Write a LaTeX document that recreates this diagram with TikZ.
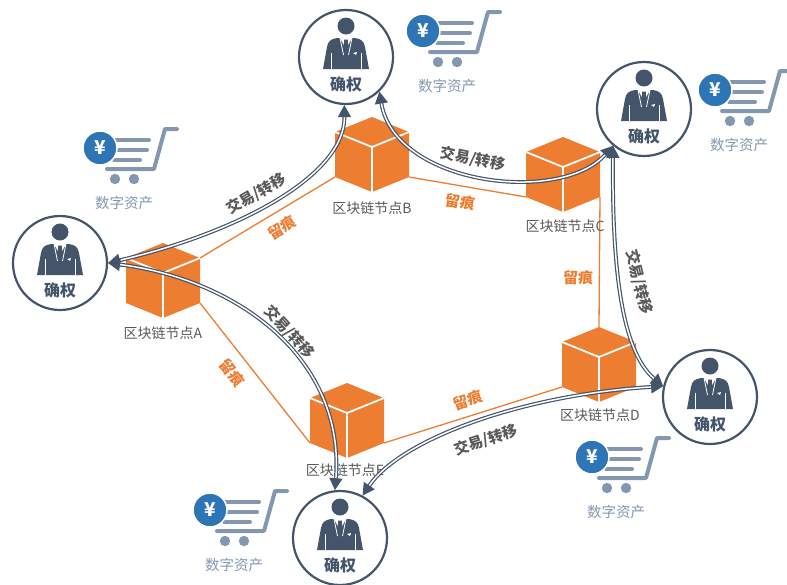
\documentclass[tikz,border=0pt]{standalone}
\usepackage{fontspec}
\setmainfont{Noto Sans CJK SC}
\usetikzlibrary{arrows.meta,backgrounds}
\definecolor{slate}{HTML}{44546A}
\definecolor{cartgray}{HTML}{8497B0}
\definecolor{yenblue}{HTML}{2E75B6}
\definecolor{cubeorange}{HTML}{ED7D31}
\definecolor{labelgray}{HTML}{595959}

\begin{document}
\begin{tikzpicture}[x=1pt,y=-1pt,
  persona/.style={circle, draw=slate, line width=2.2pt, minimum size=94pt, inner sep=0pt, fill=white},
  roletext/.style={text=slate, font=\bfseries\fontsize{16}{16}\selectfont},
  trace/.style={draw=cubeorange, line width=1.3pt},
  tracetext/.style={text=cubeorange, font=\bfseries\fontsize{15}{15}\selectfont},
  trade/.style={draw=slate, line width=1.2pt, double=white, double distance=1.5pt,
    {Triangle[length=12pt,width=13pt]}-{Triangle[length=12pt,width=13pt]}},
  tradetext/.style={text=labelgray, font=\bfseries\fontsize{15}{15}\selectfont},
  nodetext/.style={text=labelgray, font=\fontsize{14}{14}\selectfont},
  assettext/.style={text=cartgray, font=\fontsize{14.5}{14.5}\selectfont},
  yencoin/.style={circle, fill=yenblue, draw=white, line width=1.5pt, minimum size=34pt, inner sep=0pt,
    text=white, font=\bfseries\fontsize{19}{19}\selectfont},
  blockcube/.pic={
    \fill[cubeorange] (-37,-16) -- (0,-31) -- (37,-16) -- (37,29) -- (0,44) -- (-37,29) -- cycle;
    \draw[white, line width=1.8pt] (-37,-16) -- (0,-1) -- (37,-16) (0,-1) -- (0,44);
    \coordinate (-t) at (0,-31);
    \coordinate (-rt) at (37,-16);
    \coordinate (-rb) at (37,29);
    \coordinate (-lb) at (-37,29);
  },
  person/.pic={
    \fill[slate] (0,-31) circle (8.5);
    \fill[slate] (-23,12) -- (-19,-10) .. controls (-18,-16) and (-15,-18) .. (-9,-19)
      -- (9,-19) .. controls (15,-18) and (18,-16) .. (19,-10) -- (23,12) -- cycle;
    \fill[white] (-6,-19) -- (0,-8) -- (6,-19) -- cycle;
    \fill[slate] (-1.8,-17.5) -- (1.8,-17.5) -- (2.4,-8) -- (0,-5) -- (-2.4,-8) -- cycle;
    \draw[white, line width=0.8pt] (-6,-19) -- (-2.5,-2) (6,-19) -- (2.5,-2);
    \draw[white, line width=0.8pt] (-15,-4) -- (-15,12) (15,-4) -- (15,12);
    \fill[white] (7,-4) -- (11,-5) -- (10,-2) -- cycle;
  },
  cart/.pic={
    \draw[cartgray, line width=4pt, line cap=round] (10,-8) -- (49,-8);
    \draw[cartgray, line width=4pt, line cap=round] (17,2) -- (47,2);
    \draw[cartgray, line width=4pt, line cap=round] (14,12) -- (40,12);
    \draw[cartgray, line width=4pt, line cap=round, line join=round] (7,21) -- (54,21) -- (65,-19) -- (77,-19);
    \fill[cartgray] (15,31) circle (5.2) (34,31) circle (5.2);
    \node[yencoin] at (0,0) {¥};
    \node[assettext] at (24,55) {数字资产};
  }
]
\useasboundingbox (0,0) rectangle (787,584);

% digital asset carts
\pic at (423,31) {cart};
\pic at (100,148) {cart};
\pic at (715,90) {cart};
\pic at (592,457) {cart};
\pic at (210,510) {cart};

% block-chain nodes
\pic (cA) at (163,274) {blockcube};
\pic (cB) at (372,148) {blockcube};
\pic (cC) at (563,168) {blockcube};
\pic (cD) at (599,358) {blockcube};
\pic (cE) at (347,414) {blockcube};

% ledger traces, kept behind the cubes
\begin{scope}[on background layer]
\draw[trace] (cA-rt) -- (cB-lb);
\draw[trace] (cB-rb) -- (cC-lb);
\draw[trace] (cC-rb) -- (cD-t);
\draw[trace] (cE-rb) -- (cD-lb);
\draw[trace] (cA-rb) -- (cE-lb);
\end{scope}

\node[tracetext, rotate=31] (tAB) at (282,228) {留痕};
\node[tracetext, rotate=-9] (tBC) at (460,202) {留痕};
\node[tracetext] (tCD) at (578,278) {留痕};
\node[tracetext, rotate=18] (tDE) at (468,400) {留痕};
\node[tracetext, rotate=-52] (tEA) at (232,373) {留痕};

\node[nodetext] (nA) at (163,333) {区块链节点A};
\node[nodetext] (nB) at (372,208) {区块链节点B};
\node[nodetext] (nC) at (565,226) {区块链节点C};
\node[nodetext] (nD) at (600,415) {区块链节点D};
\node[nodetext] (nE) at (345,470) {区块链节点E};

% rights holders
\node[persona] (pT) at (346,57) {};
\node[persona] (pL) at (60,263) {};
\node[persona] (pTR) at (644,109) {};
\node[persona] (pR) at (710,397) {};
\node[persona] (pB) at (340,538) {};
\foreach \p in {pT,pL,pTR,pR,pB}{
  \pic at (\p.center) {person};
  \node[roletext] at ([yshift=-27pt]\p.center) {确权};
}

% transfers between rights holders
\draw[trade] (pL.0) .. controls (240,232) and (345,175) .. (pT.268);
\draw[trade] (pT.314) .. controls (395,185) and (560,205) .. (pTR.230);
\draw[trade] (pTR.230) .. controls (612,260) and (620,350) .. (pR.167);
\draw[trade] (pR.167) .. controls (520,395) and (400,440) .. (pB.62);
\draw[trade] (pL.0) .. controls (240,280) and (345,360) .. (pB.96);

\node[tradetext, rotate=30] (xLT) at (256,194) {交易/转移};
\node[tradetext, rotate=-12] (xTR) at (473,159) {交易/转移};
\node[tradetext, rotate=-76] (xRR) at (639,282) {交易/转移};
\node[tradetext, rotate=18] (xRB) at (486,440) {交易/转移};
\node[tradetext, rotate=-48] (xLB) at (289,332) {交易/转移};
\end{tikzpicture}
\end{document}
